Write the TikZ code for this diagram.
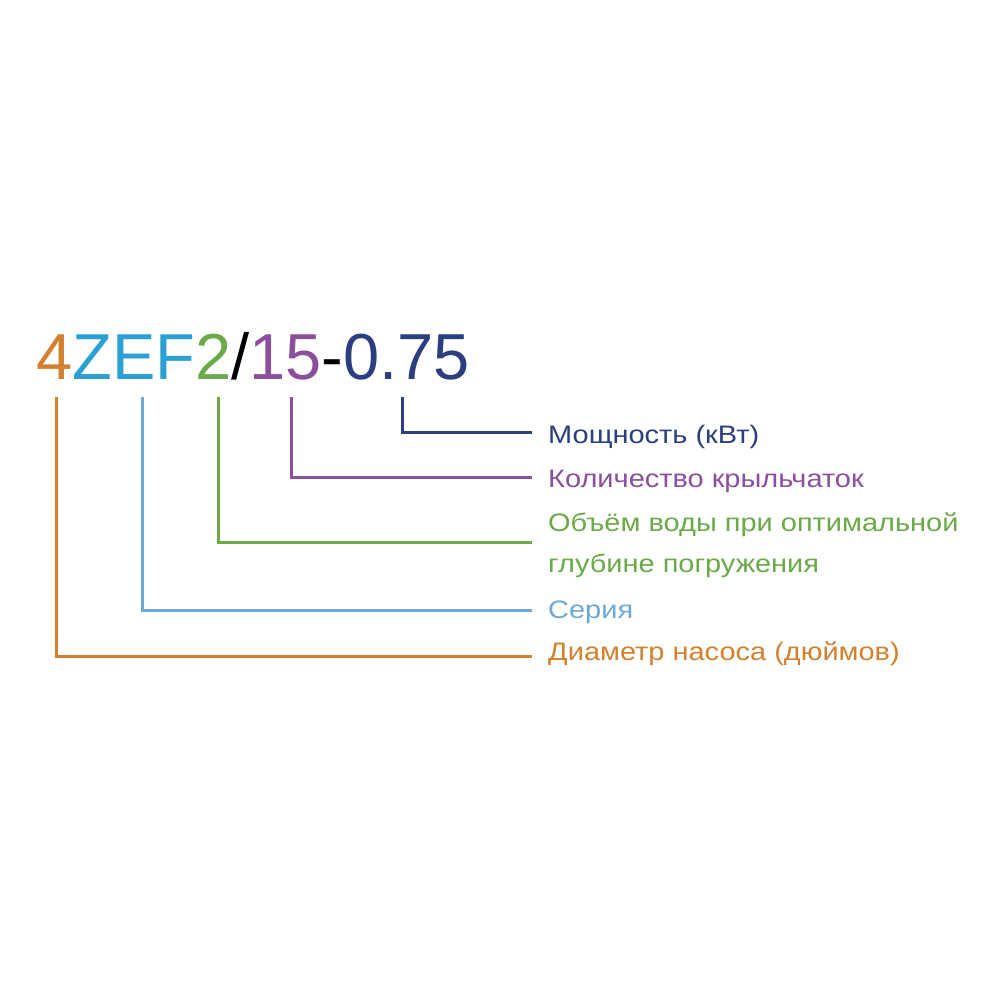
\documentclass[tikz,border=0pt]{standalone}
\usepackage{fontspec}
\setmainfont{Liberation Sans}
\newfontfamily\lblfont[FakeStretch=1.145]{Liberation Sans}
\definecolor{corange}{HTML}{D2812E}
\definecolor{cblue}{HTML}{2BA0D4}
\definecolor{clblue}{HTML}{6EA9D6}
\definecolor{cgreen}{HTML}{6AAA48}
\definecolor{cpurple}{HTML}{8C4F9C}
\definecolor{cnavy}{HTML}{2B3F80}
\tikzset{
  lead/.style={line width=3pt},
  lbl/.style={anchor=base west, inner sep=0pt, font=\lblfont\fontsize{25.3}{30}\selectfont},
}
\begin{document}
\begin{tikzpicture}[x=1pt,y=-1pt]
\useasboundingbox[fill=white] (0,0) rectangle (1000,1000);
\node[anchor=base west, inner sep=0pt, font=\fontsize{65}{78}\selectfont] (title) at (36,379)
  {\textcolor{corange}{4}\textcolor{cblue}{ZEF}\textcolor{cgreen}{2}\textcolor{black}{/}\textcolor{cpurple}{15}\textcolor{black}{-}\textcolor{cnavy}{0.75}};
% label nodes
\node[lbl, text=cnavy] (l1) at (548,443) {Мощность (кВт)};
\node[lbl, text=cpurple] (l2) at (548,487) {Количество крыльчаток};
\node[lbl, text=cgreen] (l3a) at (548,531) {Объём воды при оптимальной};
\node[lbl, text=cgreen] (l3b) at (548,572) {глубине погружения};
\node[lbl, text=clblue] (l4) at (548,618) {Серия};
\node[lbl, text=corange] (l5) at (548,660) {Диаметр насоса (дюймов)};
% coordinates
\coordinate (t1) at (402,397); \coordinate (e1) at (532,432);
\coordinate (t2) at (291,397); \coordinate (e2) at (532,477);
\coordinate (t3) at (218,397); \coordinate (e3) at (532,542);
\coordinate (t4) at (142,397); \coordinate (e4) at (532,610);
\coordinate (t5) at (56,397);  \coordinate (e5) at (532,656);
\draw[lead, cnavy] (t1) |- (e1);
\draw[lead, cpurple] (t2) |- (e2);
\draw[lead, cgreen] (t3) |- (e3);
\draw[lead, clblue] (t4) |- (e4);
\draw[lead, corange] (t5) |- (e5);
\end{tikzpicture}
\end{document}
